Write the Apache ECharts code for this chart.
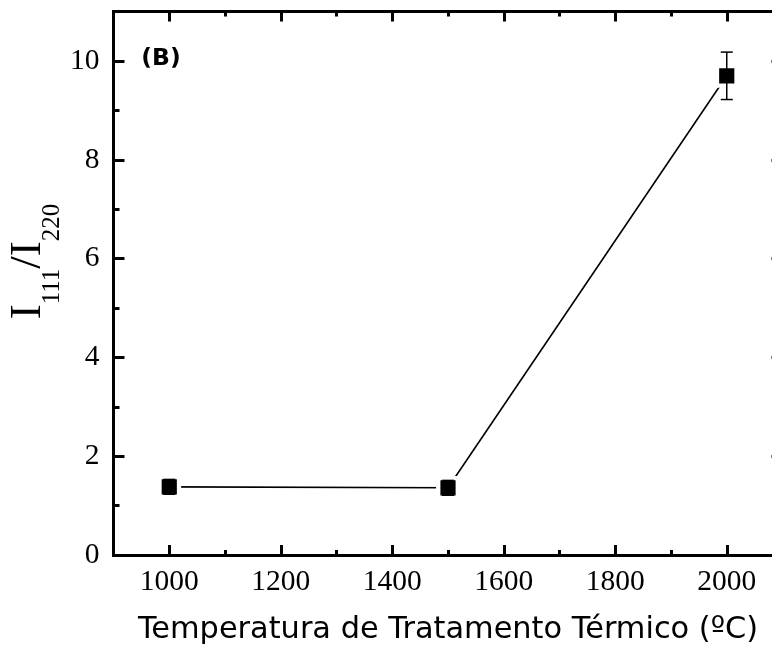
<!DOCTYPE html>
<html><head><meta charset="utf-8">
<script src="https://cdn.jsdelivr.net/npm/echarts@6/dist/echarts.min.js"></script>
<style>html,body{margin:0;padding:0;background:#fff}#c{width:772px;height:650px}</style>
</head><body><div id="c"></div>
<script>
// ---- data ----
const temperatures = [1000, 1500, 2000];
const ratioValues = [1.38, 1.36, 9.70];
const ratioErrors = [0.15, 0.15, 0.48];
const xMajorTicks = [1000, 1200, 1400, 1600, 1800, 2000];
const xMinorTicks = [1100, 1300, 1500, 1700, 1900];
const yMajorTicks = [0, 2, 4, 6, 8, 10];
const yMinorTicks = [1, 3, 5, 7, 9];
const xTitle = 'Temperatura de Tratamento Térmico (ºC)';
const panelLabel = '(B)';

const X_MIN = 900, X_MAX = 2100, Y_MIN = 0, Y_MAX = 11;
const tickFont = {fontFamily: 'Liberation Serif', fontSize: 29.5, color: '#000'};

function axisCfg(kind, pos, ticks, len, showLine, showLabel, extra) {
  const a = {
    type: 'value', position: pos,
    min: kind === 'x' ? X_MIN : Y_MIN, max: kind === 'x' ? X_MAX : Y_MAX,
    axisLine: {show: showLine, onZero: false, lineStyle: {color: '#000', width: 3, cap: 'square'}},
    axisTick: {show: true, inside: true, length: len, customValues: ticks, lineStyle: {color: '#000', width: 3}},
    axisLabel: {show: showLabel, customValues: ticks, margin: kind === 'x' ? 12 : 14,
                formatter: function (v) { return String(v); }, ...tickFont},
    splitLine: {show: false}
  };
  return Object.assign(a, extra || {});
}

const chart = echarts.init(document.getElementById('c'), null, {renderer: 'canvas'});
chart.setOption({
  animation: false,
  backgroundColor: '#fff',
  grid: {left: 113.5, top: 11.6, width: 669, height: 543.4, containLabel: false, outerBoundsMode: 'none'},
  xAxis: [
    axisCfg('x', 'bottom', xMajorTicks, 10, true, true, {
      name: xTitle, nameLocation: 'middle', nameGap: 60,
      nameTextStyle: {fontFamily: 'DejaVu Sans', fontSize: 30.4, color: '#000'}
    }),
    axisCfg('x', 'bottom', xMinorTicks, 5, false, false),
    axisCfg('x', 'top', xMajorTicks, 10, true, false),
    axisCfg('x', 'top', xMinorTicks, 5, false, false)
  ],
  yAxis: [
    axisCfg('y', 'left', yMajorTicks, 11, true, true),
    axisCfg('y', 'left', yMinorTicks, 6, false, false),
    axisCfg('y', 'right', yMajorTicks, 11, true, false),
    axisCfg('y', 'right', yMinorTicks, 6, false, false)
  ],
  graphic: [
    {
      type: 'text', x: 28, y: 261.5, rotation: Math.PI / 2,
      style: {
        text: '{m|I}{s|111}{m|/I}{s|220}',
        align: 'center', verticalAlign: 'middle', fill: '#000',
        rich: {
          m: {fontFamily: 'Liberation Serif', fontSize: 45, fill: '#000'},
          s: {fontFamily: 'Liberation Serif', fontSize: 25, fill: '#000', padding: [48, 0, 0, 0]}
        }
      }
    },
    {
      type: 'text', x: 161, y: 59,
      style: {text: panelLabel, fontFamily: 'DejaVu Sans', fontWeight: 'bold', fontSize: 23.5,
              align: 'center', verticalAlign: 'middle', fill: '#000'}
    }
  ],
  series: [
    {
      type: 'line', xAxisIndex: 0, yAxisIndex: 0,
      data: temperatures.map((t, i) => [t, ratioValues[i]]),
      symbol: 'rect', symbolSize: 19.5,
      itemStyle: {color: '#000', borderColor: '#fff', borderWidth: 4.3},
      lineStyle: {color: '#000', width: 1.6},
      z: 2
    },
    {
      type: 'custom', xAxisIndex: 0, yAxisIndex: 0, z: 3,
      data: temperatures.map((t, i) => [t, ratioValues[i], ratioErrors[i]]),
      renderItem: function (params, api) {
        const x = api.value(0), y = api.value(1), e = api.value(2);
        const top = api.coord([x, y + e]);
        const bot = api.coord([x, y - e]);
        const half = 6;
        const st = {stroke: '#000', lineWidth: 1.5};
        return {
          type: 'group',
          children: [
            {type: 'line', shape: {x1: top[0], y1: top[1], x2: bot[0], y2: bot[1]}, style: st},
            {type: 'line', shape: {x1: top[0] - half, y1: top[1], x2: top[0] + half, y2: top[1]}, style: st},
            {type: 'line', shape: {x1: bot[0] - half, y1: bot[1], x2: bot[0] + half, y2: bot[1]}, style: st}
          ]
        };
      }
    }
  ]
});
</script>
</body></html>
